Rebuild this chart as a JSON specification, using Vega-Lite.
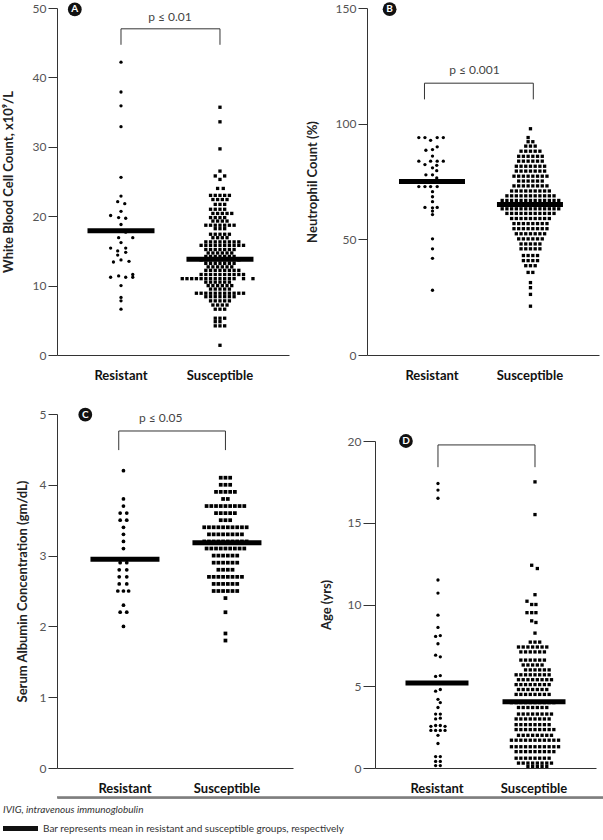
{
"$schema": "https://vega.github.io/schema/vega-lite/v6.json",
"padding": {"left": 2, "top": 2, "right": 0, "bottom": 0},
"datasets": {
"A": [
{"g":"R","v":42.2,"s":0},{"g":"R","v":37.9,"s":0},{"g":"R","v":35.9,"s":0},{"g":"R","v":32.9,"s":0},{"g":"R","v":25.6,"s":0},{"g":"R","v":22.9,"s":0},{"g":"R","v":22.1,"s":-0.7},{"g":"R","v":21.8,"s":0.8},{"g":"R","v":20.7,"s":0},{"g":"R","v":20.1,"s":-2.2},{"g":"R","v":19.8,"s":-0.5},{"g":"R","v":19.7,"s":1},{"g":"R","v":18.8,"s":0},{"g":"R","v":17.7,"s":1},{"g":"R","v":16.9,"s":-0.5},{"g":"R","v":16.9,"s":2.5},{"g":"R","v":16.2,"s":0},{"g":"R","v":15.4,"s":-2.2},{"g":"R","v":15.0,"s":-0.7},{"g":"R","v":15.4,"s":1},{"g":"R","v":14.8,"s":1},{"g":"R","v":14.4,"s":-0.7},{"g":"R","v":13.4,"s":-1.6},{"g":"R","v":13.7,"s":0},{"g":"R","v":13.5,"s":1.7},{"g":"R","v":11.2,"s":-2.2},{"g":"R","v":11.4,"s":-0.5},{"g":"R","v":11.2,"s":1},{"g":"R","v":11.6,"s":2.5},{"g":"R","v":11.2,"s":2.5},{"g":"R","v":10.0,"s":0},{"g":"R","v":8.3,"s":0},{"g":"R","v":7.8,"s":0},{"g":"R","v":6.6,"s":0},
{"g":"S","v":35.7,"s":0},{"g":"S","v":33.6,"s":0},{"g":"S","v":29.7,"s":0},{"g":"S","v":26.5,"s":0},
{"g":"S","v":25.8,"s":-1},{"g":"S","v":25.8,"s":1},{"g":"S","v":25.3,"s":0},
{"g":"S","v":24.0,"s":-0.5},{"g":"S","v":24.0,"s":0.7},
{"g":"S","v":23.0,"s":-2},{"g":"S","v":23.0,"s":-1},{"g":"S","v":23.0,"s":0},{"g":"S","v":23.0,"s":1},{"g":"S","v":23.0,"s":2},
{"g":"S","v":22.4,"s":-1.5},{"g":"S","v":22.4,"s":-0.5},{"g":"S","v":22.4,"s":0.5},{"g":"S","v":22.4,"s":1.5},
{"g":"S","v":21.7,"s":-1},{"g":"S","v":21.7,"s":0},{"g":"S","v":21.7,"s":1},
{"g":"S","v":21.0,"s":-2},{"g":"S","v":21.0,"s":-1},{"g":"S","v":21.0,"s":0},{"g":"S","v":21.0,"s":1},
{"g":"S","v":20.4,"s":-1.5},{"g":"S","v":20.4,"s":-0.5},{"g":"S","v":20.4,"s":0.5},{"g":"S","v":20.4,"s":1.5},{"g":"S","v":20.4,"s":2.5},
{"g":"S","v":19.8,"s":-2},{"g":"S","v":19.8,"s":-1},{"g":"S","v":19.8,"s":0},{"g":"S","v":19.8,"s":1},
{"g":"S","v":19.3,"s":-1.5},{"g":"S","v":19.3,"s":-0.5},{"g":"S","v":19.3,"s":0.5},{"g":"S","v":19.3,"s":1.5},
{"g":"S","v":18.7,"s":-3},{"g":"S","v":18.7,"s":-2},{"g":"S","v":18.7,"s":-1},{"g":"S","v":18.7,"s":0},{"g":"S","v":18.7,"s":1},{"g":"S","v":18.7,"s":2},{"g":"S","v":18.7,"s":3},
{"g":"S","v":18.2,"s":-1},{"g":"S","v":18.2,"s":0},{"g":"S","v":18.2,"s":1},
{"g":"S","v":17.4,"s":-2},{"g":"S","v":17.4,"s":-1},{"g":"S","v":17.4,"s":0},{"g":"S","v":17.4,"s":1},{"g":"S","v":17.4,"s":2},
{"g":"S","v":16.9,"s":-1.5},{"g":"S","v":16.9,"s":-0.5},{"g":"S","v":16.9,"s":0.5},{"g":"S","v":16.9,"s":1.5},
{"g":"S","v":16.3,"s":-3},{"g":"S","v":16.3,"s":-2},{"g":"S","v":16.3,"s":-1},{"g":"S","v":16.3,"s":0},{"g":"S","v":16.3,"s":1},{"g":"S","v":16.3,"s":2},{"g":"S","v":16.3,"s":3},{"g":"S","v":16.3,"s":4},
{"g":"S","v":15.8,"s":-4},{"g":"S","v":15.8,"s":-3},{"g":"S","v":15.8,"s":-2},{"g":"S","v":15.8,"s":-1},{"g":"S","v":15.8,"s":0},{"g":"S","v":15.8,"s":1},{"g":"S","v":15.8,"s":2},{"g":"S","v":15.8,"s":3},{"g":"S","v":15.8,"s":4},{"g":"S","v":15.8,"s":5},
{"g":"S","v":15.2,"s":-3},{"g":"S","v":15.2,"s":-2},{"g":"S","v":15.2,"s":-1},{"g":"S","v":15.2,"s":0},{"g":"S","v":15.2,"s":1},{"g":"S","v":15.2,"s":2},{"g":"S","v":15.2,"s":3},
{"g":"S","v":14.7,"s":-2.5},{"g":"S","v":14.7,"s":-1.5},{"g":"S","v":14.7,"s":-0.5},{"g":"S","v":14.7,"s":0.5},{"g":"S","v":14.7,"s":1.5},{"g":"S","v":14.7,"s":2.5},
{"g":"S","v":14.2,"s":-3},{"g":"S","v":14.2,"s":-2},{"g":"S","v":14.2,"s":-1},{"g":"S","v":14.2,"s":0},{"g":"S","v":14.2,"s":1},{"g":"S","v":14.2,"s":2},{"g":"S","v":14.2,"s":3},
{"g":"S","v":13.7,"s":-4},{"g":"S","v":13.7,"s":-3},{"g":"S","v":13.7,"s":-2},{"g":"S","v":13.7,"s":-1},{"g":"S","v":13.7,"s":0},{"g":"S","v":13.7,"s":1},{"g":"S","v":13.7,"s":2},{"g":"S","v":13.7,"s":3},{"g":"S","v":13.7,"s":4},
{"g":"S","v":13.2,"s":-3},{"g":"S","v":13.2,"s":-2},{"g":"S","v":13.2,"s":-1},{"g":"S","v":13.2,"s":0},{"g":"S","v":13.2,"s":1},{"g":"S","v":13.2,"s":2},{"g":"S","v":13.2,"s":3},
{"g":"S","v":12.7,"s":-2.5},{"g":"S","v":12.7,"s":-1.5},{"g":"S","v":12.7,"s":-0.5},{"g":"S","v":12.7,"s":0.5},{"g":"S","v":12.7,"s":1.5},{"g":"S","v":12.7,"s":2.5},
{"g":"S","v":12.2,"s":-3},{"g":"S","v":12.2,"s":-2},{"g":"S","v":12.2,"s":-1},{"g":"S","v":12.2,"s":0},{"g":"S","v":12.2,"s":1},{"g":"S","v":12.2,"s":2},{"g":"S","v":12.2,"s":3},{"g":"S","v":12.2,"s":4},
{"g":"S","v":11.6,"s":-4},{"g":"S","v":11.6,"s":-3},{"g":"S","v":11.6,"s":-2},{"g":"S","v":11.6,"s":-1},{"g":"S","v":11.6,"s":0},{"g":"S","v":11.6,"s":1},{"g":"S","v":11.6,"s":2},{"g":"S","v":11.6,"s":3},{"g":"S","v":11.6,"s":4},{"g":"S","v":11.6,"s":5},
{"g":"S","v":11.0,"s":-8},{"g":"S","v":11.0,"s":-7},{"g":"S","v":11.0,"s":-6},{"g":"S","v":11.0,"s":-5},{"g":"S","v":11.0,"s":-4},{"g":"S","v":11.0,"s":-3},{"g":"S","v":11.0,"s":-2},{"g":"S","v":11.0,"s":-1},{"g":"S","v":11.0,"s":0},{"g":"S","v":11.0,"s":1},{"g":"S","v":11.0,"s":2},{"g":"S","v":11.0,"s":3},{"g":"S","v":11.0,"s":5},{"g":"S","v":11.0,"s":7},
{"g":"S","v":10.5,"s":-3},{"g":"S","v":10.5,"s":-2},{"g":"S","v":10.5,"s":-1},{"g":"S","v":10.5,"s":0},{"g":"S","v":10.5,"s":1},{"g":"S","v":10.5,"s":2},
{"g":"S","v":10.0,"s":-2.5},{"g":"S","v":10.0,"s":-1.5},{"g":"S","v":10.0,"s":-0.5},{"g":"S","v":10.0,"s":0.5},{"g":"S","v":10.0,"s":1.5},{"g":"S","v":10.0,"s":2.5},
{"g":"S","v":9.5,"s":-2},{"g":"S","v":9.5,"s":-1},{"g":"S","v":9.5,"s":0},{"g":"S","v":9.5,"s":1},{"g":"S","v":9.5,"s":2},
{"g":"S","v":8.9,"s":-5},{"g":"S","v":8.9,"s":-4},{"g":"S","v":8.9,"s":-3},{"g":"S","v":8.9,"s":-2},{"g":"S","v":8.9,"s":-1},{"g":"S","v":8.9,"s":0},{"g":"S","v":8.9,"s":1},{"g":"S","v":8.9,"s":2},{"g":"S","v":8.9,"s":3},{"g":"S","v":8.9,"s":4},{"g":"S","v":8.9,"s":5},
{"g":"S","v":8.4,"s":-3},{"g":"S","v":8.4,"s":-2},{"g":"S","v":8.4,"s":-1},{"g":"S","v":8.4,"s":0},{"g":"S","v":8.4,"s":1},{"g":"S","v":8.4,"s":2},{"g":"S","v":8.4,"s":3},
{"g":"S","v":7.8,"s":-2},{"g":"S","v":7.8,"s":-1},{"g":"S","v":7.8,"s":0},{"g":"S","v":7.8,"s":1},{"g":"S","v":7.8,"s":2},
{"g":"S","v":7.2,"s":-1.5},{"g":"S","v":7.2,"s":-0.5},{"g":"S","v":7.2,"s":0.5},{"g":"S","v":7.2,"s":1.5},
{"g":"S","v":6.6,"s":-1},{"g":"S","v":6.6,"s":0},{"g":"S","v":6.6,"s":1},
{"g":"S","v":5.3,"s":-1},{"g":"S","v":5.3,"s":0},{"g":"S","v":5.3,"s":1},
{"g":"S","v":4.8,"s":-1},{"g":"S","v":4.8,"s":0},
{"g":"S","v":4.2,"s":-1},{"g":"S","v":4.2,"s":0},{"g":"S","v":4.2,"s":1},
{"g":"S","v":1.4,"s":0}
],
"Am": [{"g":"R","v":17.9},{"g":"S","v":13.8}],
"Ab": [{"g":"R","v":44.7,"s":0,"o":1},{"g":"R","v":47.0,"s":0,"o":2},{"g":"S","v":47.0,"s":0,"o":3},{"g":"S","v":44.7,"s":0,"o":4}],
"At": [{"g":"R","v":48.7,"s":10.4,"t":"p ≤ 0.01"}],
"Al": [{"g":"R","v":49.8,"s":-9.8,"t":"A"}],
"B": [
{"g":"R","v":94.0,"s":-2.9},{"g":"R","v":94.0,"s":-1.6},{"g":"R","v":92.8,"s":-0.4},{"g":"R","v":94.0,"s":1.0},{"g":"R","v":94.0,"s":2.3},
{"g":"R","v":90.0,"s":1.0},{"g":"R","v":88.5,"s":-1.4},{"g":"R","v":88.8,"s":0},{"g":"R","v":86.0,"s":0},
{"g":"R","v":83.8,"s":-2.9},{"g":"R","v":83.8,"s":-0.4},{"g":"R","v":83.8,"s":1.0},{"g":"R","v":83.8,"s":2.3},
{"g":"R","v":82.3,"s":-1.6},{"g":"R","v":82.0,"s":0.9},{"g":"R","v":80.9,"s":0},{"g":"R","v":79.7,"s":0.9},{"g":"R","v":77.9,"s":-1.4},{"g":"R","v":77.9,"s":0},{"g":"R","v":76.5,"s":0.9},{"g":"R","v":75.0,"s":0},
{"g":"R","v":72.8,"s":-2.9},{"g":"R","v":72.8,"s":-1.6},{"g":"R","v":72.8,"s":-0.4},{"g":"R","v":72.8,"s":1.0},
{"g":"R","v":70.6,"s":0},{"g":"R","v":68.4,"s":0},{"g":"R","v":66.3,"s":0},{"g":"R","v":63.8,"s":-1.6},{"g":"R","v":63.8,"s":1.0},{"g":"R","v":63.6,"s":0},{"g":"R","v":62.2,"s":0},{"g":"R","v":60.7,"s":0},
{"g":"R","v":50.2,"s":0},{"g":"R","v":45.9,"s":0},{"g":"R","v":41.8,"s":0},{"g":"R","v":28.0,"s":0},
{"g":"S","v":97.8,"s":0},{"g":"S","v":94.0,"s":-0.5},
{"g":"S","v":92.2,"s":-0.5},{"g":"S","v":92.2,"s":0.5},
{"g":"S","v":90.3,"s":-1},{"g":"S","v":90.3,"s":0},{"g":"S","v":90.3,"s":1},
{"g":"S","v":88.1,"s":-2},{"g":"S","v":88.1,"s":-1},{"g":"S","v":88.1,"s":0},{"g":"S","v":88.1,"s":1},{"g":"S","v":88.1,"s":2},
{"g":"S","v":85.9,"s":-2.5},{"g":"S","v":85.9,"s":-1.5},{"g":"S","v":85.9,"s":-0.5},{"g":"S","v":85.9,"s":0.5},{"g":"S","v":85.9,"s":1.5},{"g":"S","v":85.9,"s":2.5},
{"g":"S","v":83.8,"s":-2.5},{"g":"S","v":83.8,"s":-1.5},{"g":"S","v":83.8,"s":-0.5},{"g":"S","v":83.8,"s":0.5},{"g":"S","v":83.8,"s":1.5},{"g":"S","v":83.8,"s":2.5},
{"g":"S","v":81.6,"s":-3},{"g":"S","v":81.6,"s":-2},{"g":"S","v":81.6,"s":-1},{"g":"S","v":81.6,"s":0},{"g":"S","v":81.6,"s":1},{"g":"S","v":81.6,"s":2},{"g":"S","v":81.6,"s":3},
{"g":"S","v":79.5,"s":-3},{"g":"S","v":79.5,"s":-2},{"g":"S","v":79.5,"s":-1},{"g":"S","v":79.5,"s":0},{"g":"S","v":79.5,"s":1},{"g":"S","v":79.5,"s":2},{"g":"S","v":79.5,"s":3},
{"g":"S","v":77.3,"s":-3.5},{"g":"S","v":77.3,"s":-2.5},{"g":"S","v":77.3,"s":-1.5},{"g":"S","v":77.3,"s":-0.5},{"g":"S","v":77.3,"s":0.5},{"g":"S","v":77.3,"s":1.5},{"g":"S","v":77.3,"s":2.5},{"g":"S","v":77.3,"s":3.5},
{"g":"S","v":75.2,"s":-2.5},{"g":"S","v":75.2,"s":-1.5},{"g":"S","v":75.2,"s":-0.5},{"g":"S","v":75.2,"s":0.5},{"g":"S","v":75.2,"s":1.5},{"g":"S","v":75.2,"s":2.5},
{"g":"S","v":73.1,"s":-3.5},{"g":"S","v":73.1,"s":-2.5},{"g":"S","v":73.1,"s":-1.5},{"g":"S","v":73.1,"s":-0.5},{"g":"S","v":73.1,"s":0.5},{"g":"S","v":73.1,"s":1.5},{"g":"S","v":73.1,"s":2.5},{"g":"S","v":73.1,"s":3.5},
{"g":"S","v":70.9,"s":-4},{"g":"S","v":70.9,"s":-3},{"g":"S","v":70.9,"s":-2},{"g":"S","v":70.9,"s":-1},{"g":"S","v":70.9,"s":0},{"g":"S","v":70.9,"s":1},{"g":"S","v":70.9,"s":2},{"g":"S","v":70.9,"s":3},{"g":"S","v":70.9,"s":4},
{"g":"S","v":68.8,"s":-5},{"g":"S","v":68.8,"s":-4},{"g":"S","v":68.8,"s":-3},{"g":"S","v":68.8,"s":-2},{"g":"S","v":68.8,"s":-1},{"g":"S","v":68.8,"s":0},{"g":"S","v":68.8,"s":1},{"g":"S","v":68.8,"s":2},{"g":"S","v":68.8,"s":3},{"g":"S","v":68.8,"s":4},{"g":"S","v":68.8,"s":5},
{"g":"S","v":66.8,"s":-6},{"g":"S","v":66.8,"s":-5},{"g":"S","v":66.8,"s":-4},{"g":"S","v":66.8,"s":-3},{"g":"S","v":66.8,"s":-2},{"g":"S","v":66.8,"s":-1},{"g":"S","v":66.8,"s":0},{"g":"S","v":66.8,"s":1},{"g":"S","v":66.8,"s":2},{"g":"S","v":66.8,"s":3},{"g":"S","v":66.8,"s":4},{"g":"S","v":66.8,"s":5},{"g":"S","v":66.8,"s":6},
{"g":"S","v":65.0,"s":-6},{"g":"S","v":65.0,"s":-5},{"g":"S","v":65.0,"s":-4},{"g":"S","v":65.0,"s":-3},{"g":"S","v":65.0,"s":-2},{"g":"S","v":65.0,"s":-1},{"g":"S","v":65.0,"s":0},{"g":"S","v":65.0,"s":1},{"g":"S","v":65.0,"s":2},{"g":"S","v":65.0,"s":3},{"g":"S","v":65.0,"s":4},{"g":"S","v":65.0,"s":5},{"g":"S","v":65.0,"s":6},
{"g":"S","v":63.2,"s":-6},{"g":"S","v":63.2,"s":-5},{"g":"S","v":63.2,"s":-4},{"g":"S","v":63.2,"s":-3},{"g":"S","v":63.2,"s":-2},{"g":"S","v":63.2,"s":-1},{"g":"S","v":63.2,"s":0},{"g":"S","v":63.2,"s":1},{"g":"S","v":63.2,"s":2},{"g":"S","v":63.2,"s":3},{"g":"S","v":63.2,"s":4},{"g":"S","v":63.2,"s":5},{"g":"S","v":63.2,"s":6},
{"g":"S","v":61.2,"s":-5},{"g":"S","v":61.2,"s":-4},{"g":"S","v":61.2,"s":-3},{"g":"S","v":61.2,"s":-2},{"g":"S","v":61.2,"s":-1},{"g":"S","v":61.2,"s":0},{"g":"S","v":61.2,"s":1},{"g":"S","v":61.2,"s":2},{"g":"S","v":61.2,"s":3},{"g":"S","v":61.2,"s":4},{"g":"S","v":61.2,"s":5},
{"g":"S","v":59.0,"s":-4},{"g":"S","v":59.0,"s":-3},{"g":"S","v":59.0,"s":-2},{"g":"S","v":59.0,"s":-1},{"g":"S","v":59.0,"s":0},{"g":"S","v":59.0,"s":1},{"g":"S","v":59.0,"s":2},{"g":"S","v":59.0,"s":3},{"g":"S","v":59.0,"s":4},
{"g":"S","v":56.8,"s":-3.5},{"g":"S","v":56.8,"s":-2.5},{"g":"S","v":56.8,"s":-1.5},{"g":"S","v":56.8,"s":-0.5},{"g":"S","v":56.8,"s":0.5},{"g":"S","v":56.8,"s":1.5},{"g":"S","v":56.8,"s":2.5},{"g":"S","v":56.8,"s":3.5},
{"g":"S","v":54.6,"s":-3.5},{"g":"S","v":54.6,"s":-2.5},{"g":"S","v":54.6,"s":-1.5},{"g":"S","v":54.6,"s":-0.5},{"g":"S","v":54.6,"s":0.5},{"g":"S","v":54.6,"s":1.5},{"g":"S","v":54.6,"s":2.5},{"g":"S","v":54.6,"s":3.5},
{"g":"S","v":52.4,"s":-3},{"g":"S","v":52.4,"s":-2},{"g":"S","v":52.4,"s":-1},{"g":"S","v":52.4,"s":0},{"g":"S","v":52.4,"s":1},{"g":"S","v":52.4,"s":2},{"g":"S","v":52.4,"s":3},
{"g":"S","v":50.2,"s":-2.5},{"g":"S","v":50.2,"s":-1.5},{"g":"S","v":50.2,"s":-0.5},{"g":"S","v":50.2,"s":0.5},{"g":"S","v":50.2,"s":1.5},{"g":"S","v":50.2,"s":2.5},
{"g":"S","v":48.0,"s":-2},{"g":"S","v":48.0,"s":-1},{"g":"S","v":48.0,"s":0},{"g":"S","v":48.0,"s":1},{"g":"S","v":48.0,"s":2},
{"g":"S","v":45.9,"s":-2},{"g":"S","v":45.9,"s":-1},{"g":"S","v":45.9,"s":0},{"g":"S","v":45.9,"s":1},{"g":"S","v":45.9,"s":2},
{"g":"S","v":43.0,"s":-1.5},{"g":"S","v":43.0,"s":-0.5},{"g":"S","v":43.0,"s":0.5},{"g":"S","v":43.0,"s":1.5},
{"g":"S","v":40.8,"s":-1.5},{"g":"S","v":40.8,"s":-0.5},{"g":"S","v":40.8,"s":0.5},{"g":"S","v":40.8,"s":1.5},
{"g":"S","v":38.6,"s":-1},{"g":"S","v":38.6,"s":0},{"g":"S","v":38.6,"s":1},
{"g":"S","v":35.7,"s":-0.5},{"g":"S","v":35.7,"s":0.5},
{"g":"S","v":31.3,"s":0},{"g":"S","v":29.1,"s":0},{"g":"S","v":26.2,"s":0},{"g":"S","v":21.1,"s":0}
],
"Bm": [{"g":"R","v":75.0},{"g":"S","v":65.1}],
"Bb": [{"g":"R","v":110.5,"s":-1.7,"o":1},{"g":"R","v":117.5,"s":-1.7,"o":2},{"g":"S","v":117.5,"s":0.6,"o":3},{"g":"S","v":110.5,"s":0.6,"o":4}],
"Bt": [{"g":"R","v":123.2,"s":8.9,"t":"p ≤ 0.001"}],
"Bl": [{"g":"R","v":149.5,"s":-9.1,"t":"B"}],
"C": [
{"g":"R","v":4.2,"s":0},{"g":"R","v":3.8,"s":0},{"g":"R","v":3.7,"s":0},{"g":"R","v":3.6,"s":-0.7},{"g":"R","v":3.6,"s":0.7},{"g":"R","v":3.5,"s":-0.7},{"g":"R","v":3.5,"s":0.7},{"g":"R","v":3.4,"s":0},{"g":"R","v":3.3,"s":0},{"g":"R","v":3.2,"s":0},{"g":"R","v":3.1,"s":0},{"g":"R","v":2.9,"s":-0.7},{"g":"R","v":2.9,"s":0.7},{"g":"R","v":2.8,"s":-0.9},{"g":"R","v":2.8,"s":0.7},{"g":"R","v":2.7,"s":-0.9},{"g":"R","v":2.7,"s":0.7},{"g":"R","v":2.6,"s":-0.9},{"g":"R","v":2.6,"s":0.7},{"g":"R","v":2.5,"s":-1.2},{"g":"R","v":2.5,"s":0},{"g":"R","v":2.5,"s":1.1},{"g":"R","v":2.3,"s":0},{"g":"R","v":2.2,"s":-0.7},{"g":"R","v":2.2,"s":0.7},{"g":"R","v":2.0,"s":0},
{"g":"S","v":4.1,"s":-1},{"g":"S","v":4.1,"s":0},{"g":"S","v":4.1,"s":1},
{"g":"S","v":4.0,"s":-1},{"g":"S","v":4.0,"s":0},{"g":"S","v":4.0,"s":1},
{"g":"S","v":3.9,"s":-2},{"g":"S","v":3.9,"s":-1},{"g":"S","v":3.9,"s":0},{"g":"S","v":3.9,"s":1},{"g":"S","v":3.9,"s":2},
{"g":"S","v":3.8,"s":-0.5},{"g":"S","v":3.8,"s":0.5},
{"g":"S","v":3.7,"s":-4},{"g":"S","v":3.7,"s":-3},{"g":"S","v":3.7,"s":-2},{"g":"S","v":3.7,"s":-1},{"g":"S","v":3.7,"s":0},{"g":"S","v":3.7,"s":1},{"g":"S","v":3.7,"s":2},{"g":"S","v":3.7,"s":3},{"g":"S","v":3.7,"s":4},
{"g":"S","v":3.6,"s":-2},{"g":"S","v":3.6,"s":-1},{"g":"S","v":3.6,"s":0},{"g":"S","v":3.6,"s":1},{"g":"S","v":3.6,"s":2},
{"g":"S","v":3.5,"s":-1},{"g":"S","v":3.5,"s":0},{"g":"S","v":3.5,"s":1},
{"g":"S","v":3.4,"s":-4.5},{"g":"S","v":3.4,"s":-3.5},{"g":"S","v":3.4,"s":-2.5},{"g":"S","v":3.4,"s":-1.5},{"g":"S","v":3.4,"s":-0.5},{"g":"S","v":3.4,"s":0.5},{"g":"S","v":3.4,"s":1.5},{"g":"S","v":3.4,"s":2.5},{"g":"S","v":3.4,"s":3.5},{"g":"S","v":3.4,"s":4.5},
{"g":"S","v":3.3,"s":-3.5},{"g":"S","v":3.3,"s":-2.5},{"g":"S","v":3.3,"s":-1.5},{"g":"S","v":3.3,"s":-0.5},{"g":"S","v":3.3,"s":0.5},{"g":"S","v":3.3,"s":1.5},{"g":"S","v":3.3,"s":2.5},{"g":"S","v":3.3,"s":3.5},
{"g":"S","v":3.2,"s":-4.5},{"g":"S","v":3.2,"s":-3.5},{"g":"S","v":3.2,"s":-2.5},{"g":"S","v":3.2,"s":-1.5},{"g":"S","v":3.2,"s":-0.5},{"g":"S","v":3.2,"s":0.5},{"g":"S","v":3.2,"s":1.5},{"g":"S","v":3.2,"s":2.5},{"g":"S","v":3.2,"s":3.5},{"g":"S","v":3.2,"s":4.5},
{"g":"S","v":3.1,"s":-4},{"g":"S","v":3.1,"s":-3},{"g":"S","v":3.1,"s":-2},{"g":"S","v":3.1,"s":-1},{"g":"S","v":3.1,"s":0},{"g":"S","v":3.1,"s":1},{"g":"S","v":3.1,"s":2},{"g":"S","v":3.1,"s":3},{"g":"S","v":3.1,"s":4},
{"g":"S","v":3.0,"s":-2.5},{"g":"S","v":3.0,"s":-1.5},{"g":"S","v":3.0,"s":-0.5},{"g":"S","v":3.0,"s":0.5},{"g":"S","v":3.0,"s":1.5},{"g":"S","v":3.0,"s":2.5},
{"g":"S","v":2.9,"s":-2.5},{"g":"S","v":2.9,"s":-1.5},{"g":"S","v":2.9,"s":-0.5},{"g":"S","v":2.9,"s":0.5},{"g":"S","v":2.9,"s":1.5},{"g":"S","v":2.9,"s":2.5},
{"g":"S","v":2.8,"s":-1.5},{"g":"S","v":2.8,"s":-0.5},{"g":"S","v":2.8,"s":0.5},{"g":"S","v":2.8,"s":1.5},
{"g":"S","v":2.7,"s":-3.5},{"g":"S","v":2.7,"s":-2.5},{"g":"S","v":2.7,"s":-1.5},{"g":"S","v":2.7,"s":-0.5},{"g":"S","v":2.7,"s":0.5},{"g":"S","v":2.7,"s":1.5},{"g":"S","v":2.7,"s":2.5},{"g":"S","v":2.7,"s":3.5},
{"g":"S","v":2.6,"s":-2.5},{"g":"S","v":2.6,"s":-1.5},{"g":"S","v":2.6,"s":-0.5},{"g":"S","v":2.6,"s":0.5},{"g":"S","v":2.6,"s":1.5},{"g":"S","v":2.6,"s":2.5},
{"g":"S","v":2.5,"s":-2.5},{"g":"S","v":2.5,"s":-1.5},{"g":"S","v":2.5,"s":-0.5},{"g":"S","v":2.5,"s":0.5},{"g":"S","v":2.5,"s":1.5},{"g":"S","v":2.5,"s":2.5},
{"g":"S","v":2.4,"s":0},{"g":"S","v":2.2,"s":0},{"g":"S","v":1.9,"s":0},{"g":"S","v":1.8,"s":0}
],
"Cm": [{"g":"R","v":2.95},{"g":"S","v":3.18}],
"Cb": [{"g":"R","v":4.49,"s":-1,"o":1},{"g":"R","v":4.76,"s":-1,"o":2},{"g":"S","v":4.76,"s":0,"o":3},{"g":"S","v":4.49,"s":0,"o":4}],
"Ct": [{"g":"R","v":4.94,"s":7.9,"t":"p ≤ 0.05"}],
"Cl": [{"g":"R","v":4.99,"s":-8.1,"t":"C"}],
"D": [
{"g":"R","v":17.4,"s":0},{"g":"R","v":17.0,"s":0},{"g":"R","v":16.5,"s":0},{"g":"R","v":11.5,"s":0},{"g":"R","v":10.7,"s":0},{"g":"R","v":9.35,"s":0},{"g":"R","v":8.6,"s":0},{"g":"R","v":8.05,"s":-0.5},{"g":"R","v":8.1,"s":0.5},{"g":"R","v":7.6,"s":0},{"g":"R","v":6.9,"s":-0.5},{"g":"R","v":6.8,"s":0.5},{"g":"R","v":5.6,"s":-0.5},{"g":"R","v":5.65,"s":0.5},{"g":"R","v":4.7,"s":-0.5},{"g":"R","v":4.8,"s":0.5},{"g":"R","v":4.2,"s":0},{"g":"R","v":4.0,"s":0.5},{"g":"R","v":3.7,"s":0},{"g":"R","v":3.3,"s":-0.5},{"g":"R","v":3.3,"s":0.5},{"g":"R","v":3.05,"s":0.5},{"g":"R","v":3.0,"s":-0.5},{"g":"R","v":2.55,"s":-1.5},{"g":"R","v":2.6,"s":-0.5},{"g":"R","v":2.6,"s":0.5},{"g":"R","v":2.55,"s":1.5},{"g":"R","v":2.3,"s":-1.5},{"g":"R","v":2.3,"s":-0.5},{"g":"R","v":2.3,"s":0.5},{"g":"R","v":2.3,"s":1.5},{"g":"R","v":2.0,"s":0},{"g":"R","v":1.5,"s":0},{"g":"R","v":0.7,"s":-0.5},{"g":"R","v":0.7,"s":0.5},{"g":"R","v":0.4,"s":-0.5},{"g":"R","v":0.4,"s":0.5},{"g":"R","v":0.15,"s":-0.5},{"g":"R","v":0.15,"s":0.5},
{"g":"S","v":17.5,"s":0},{"g":"S","v":15.5,"s":0},{"g":"S","v":12.4,"s":-0.7},{"g":"S","v":12.2,"s":0.5},{"g":"S","v":10.6,"s":0},{"g":"S","v":10.2,"s":-1.7},{"g":"S","v":10.0,"s":-0.7},{"g":"S","v":10.0,"s":0.2},
{"g":"S","v":9.5,"s":-1.7},{"g":"S","v":9.5,"s":-0.7},{"g":"S","v":9.5,"s":0.2},{"g":"S","v":9.0,"s":-0.7},{"g":"S","v":8.9,"s":0.2},{"g":"S","v":8.25,"s":0},
{"g":"S","v":7.7,"s":-1},{"g":"S","v":7.7,"s":0},{"g":"S","v":7.7,"s":1},
{"g":"S","v":7.4,"s":-3.5},{"g":"S","v":7.4,"s":-2.5},{"g":"S","v":7.4,"s":-1.5},{"g":"S","v":7.4,"s":-0.5},{"g":"S","v":7.4,"s":0.5},{"g":"S","v":7.4,"s":1.5},{"g":"S","v":7.4,"s":2.5},
{"g":"S","v":7.1,"s":-3},{"g":"S","v":7.1,"s":-2},{"g":"S","v":7.1,"s":-1},{"g":"S","v":7.1,"s":0},{"g":"S","v":7.1,"s":1},{"g":"S","v":7.1,"s":2},
{"g":"S","v":6.6,"s":-3},{"g":"S","v":6.6,"s":-2},{"g":"S","v":6.6,"s":-1},{"g":"S","v":6.6,"s":0},{"g":"S","v":6.6,"s":1},{"g":"S","v":6.6,"s":2},
{"g":"S","v":6.3,"s":-2.5},{"g":"S","v":6.3,"s":-1.5},{"g":"S","v":6.3,"s":-0.5},{"g":"S","v":6.3,"s":0.5},{"g":"S","v":6.3,"s":1.5},
{"g":"S","v":6.0,"s":-2},{"g":"S","v":6.0,"s":-1},{"g":"S","v":6.0,"s":0},{"g":"S","v":6.0,"s":1},{"g":"S","v":6.0,"s":2},{"g":"S","v":6.0,"s":3},
{"g":"S","v":5.7,"s":-4},{"g":"S","v":5.7,"s":-3},{"g":"S","v":5.7,"s":-2},{"g":"S","v":5.7,"s":-1},{"g":"S","v":5.7,"s":0},{"g":"S","v":5.7,"s":1},{"g":"S","v":5.7,"s":2},{"g":"S","v":5.7,"s":3},
{"g":"S","v":5.4,"s":-3.5},{"g":"S","v":5.4,"s":-2.5},{"g":"S","v":5.4,"s":-1.5},{"g":"S","v":5.4,"s":-0.5},{"g":"S","v":5.4,"s":0.5},{"g":"S","v":5.4,"s":1.5},{"g":"S","v":5.4,"s":2.5},{"g":"S","v":5.4,"s":3.5},
{"g":"S","v":5.1,"s":-4},{"g":"S","v":5.1,"s":-3},{"g":"S","v":5.1,"s":-2},{"g":"S","v":5.1,"s":-1},{"g":"S","v":5.1,"s":0},{"g":"S","v":5.1,"s":1},{"g":"S","v":5.1,"s":2},{"g":"S","v":5.1,"s":3},
{"g":"S","v":4.8,"s":-3.5},{"g":"S","v":4.8,"s":-2.5},{"g":"S","v":4.8,"s":-1.5},{"g":"S","v":4.8,"s":-0.5},{"g":"S","v":4.8,"s":0.5},{"g":"S","v":4.8,"s":1.5},{"g":"S","v":4.8,"s":2.5},
{"g":"S","v":4.5,"s":-4},{"g":"S","v":4.5,"s":-3},{"g":"S","v":4.5,"s":-2},{"g":"S","v":4.5,"s":-1},{"g":"S","v":4.5,"s":0},{"g":"S","v":4.5,"s":1},{"g":"S","v":4.5,"s":2},{"g":"S","v":4.5,"s":3},
{"g":"S","v":4.0,"s":-5},{"g":"S","v":4.0,"s":-4},{"g":"S","v":4.0,"s":-3},{"g":"S","v":4.0,"s":-2},{"g":"S","v":4.0,"s":-1},{"g":"S","v":4.0,"s":0},{"g":"S","v":4.0,"s":1},{"g":"S","v":4.0,"s":2},{"g":"S","v":4.0,"s":3},{"g":"S","v":4.0,"s":4},
{"g":"S","v":3.7,"s":-3.5},{"g":"S","v":3.7,"s":-2.5},{"g":"S","v":3.7,"s":-1.5},{"g":"S","v":3.7,"s":-0.5},{"g":"S","v":3.7,"s":0.5},{"g":"S","v":3.7,"s":1.5},{"g":"S","v":3.7,"s":2.5},
{"g":"S","v":3.3,"s":-3.5},{"g":"S","v":3.3,"s":-2.5},{"g":"S","v":3.3,"s":-1.5},{"g":"S","v":3.3,"s":-0.5},{"g":"S","v":3.3,"s":0.5},{"g":"S","v":3.3,"s":1.5},{"g":"S","v":3.3,"s":2.5},{"g":"S","v":3.3,"s":3.5},
{"g":"S","v":3.0,"s":-4},{"g":"S","v":3.0,"s":-3},{"g":"S","v":3.0,"s":-2},{"g":"S","v":3.0,"s":-1},{"g":"S","v":3.0,"s":0},{"g":"S","v":3.0,"s":1},{"g":"S","v":3.0,"s":2},{"g":"S","v":3.0,"s":3},
{"g":"S","v":2.65,"s":-4},{"g":"S","v":2.65,"s":-3},{"g":"S","v":2.65,"s":-2},{"g":"S","v":2.65,"s":-1},{"g":"S","v":2.65,"s":0},{"g":"S","v":2.65,"s":1},{"g":"S","v":2.65,"s":2},{"g":"S","v":2.65,"s":3},
{"g":"S","v":2.35,"s":-4},{"g":"S","v":2.35,"s":-3},{"g":"S","v":2.35,"s":-2},{"g":"S","v":2.35,"s":-1},{"g":"S","v":2.35,"s":0},{"g":"S","v":2.35,"s":1},{"g":"S","v":2.35,"s":2},{"g":"S","v":2.35,"s":3},{"g":"S","v":2.35,"s":4},
{"g":"S","v":2.0,"s":-3.5},{"g":"S","v":2.0,"s":-2.5},{"g":"S","v":2.0,"s":-1.5},{"g":"S","v":2.0,"s":-0.5},{"g":"S","v":2.0,"s":0.5},{"g":"S","v":2.0,"s":1.5},{"g":"S","v":2.0,"s":2.5},{"g":"S","v":2.0,"s":3.5},
{"g":"S","v":1.7,"s":-5},{"g":"S","v":1.7,"s":-4},{"g":"S","v":1.7,"s":-3},{"g":"S","v":1.7,"s":-2},{"g":"S","v":1.7,"s":-1},{"g":"S","v":1.7,"s":0},{"g":"S","v":1.7,"s":1},{"g":"S","v":1.7,"s":2},{"g":"S","v":1.7,"s":3},{"g":"S","v":1.7,"s":4},{"g":"S","v":1.7,"s":5},
{"g":"S","v":1.3,"s":-5},{"g":"S","v":1.3,"s":-4},{"g":"S","v":1.3,"s":-3},{"g":"S","v":1.3,"s":-2},{"g":"S","v":1.3,"s":-1},{"g":"S","v":1.3,"s":0},{"g":"S","v":1.3,"s":1},{"g":"S","v":1.3,"s":2},{"g":"S","v":1.3,"s":3},{"g":"S","v":1.3,"s":4},{"g":"S","v":1.3,"s":5},
{"g":"S","v":1.0,"s":-4},{"g":"S","v":1.0,"s":-3},{"g":"S","v":1.0,"s":-2},{"g":"S","v":1.0,"s":-1},{"g":"S","v":1.0,"s":0},{"g":"S","v":1.0,"s":1},{"g":"S","v":1.0,"s":2},{"g":"S","v":1.0,"s":3},{"g":"S","v":1.0,"s":4},
{"g":"S","v":0.6,"s":-4},{"g":"S","v":0.6,"s":-3},{"g":"S","v":0.6,"s":-2},{"g":"S","v":0.6,"s":-1},{"g":"S","v":0.6,"s":0},{"g":"S","v":0.6,"s":1},{"g":"S","v":0.6,"s":2},{"g":"S","v":0.6,"s":3},
{"g":"S","v":0.3,"s":-3.5},{"g":"S","v":0.3,"s":-2.5},{"g":"S","v":0.3,"s":-1.5},{"g":"S","v":0.3,"s":-0.5},{"g":"S","v":0.3,"s":0.5},{"g":"S","v":0.3,"s":1.5},{"g":"S","v":0.3,"s":2.5},{"g":"S","v":0.3,"s":3.5},
{"g":"S","v":0.1,"s":-1.5},{"g":"S","v":0.1,"s":-0.5},{"g":"S","v":0.1,"s":0.5},{"g":"S","v":0.1,"s":1.5},{"g":"S","v":0.1,"s":2.5}
],
"Dm": [{"g":"R","v":5.2},{"g":"S","v":4.05}],
"Db": [{"g":"R","v":18.4,"s":0,"o":1},{"g":"R","v":19.76,"s":0,"o":2},{"g":"S","v":19.76,"s":0,"o":3},{"g":"S","v":18.4,"s":0,"o":4}],
"Dl": [{"g":"R","v":20.0,"s":-6.8,"t":"D"}],
"F": [{"a":0,"b":1,"y":1}]
},
"vconcat": [
{"vconcat": [
{"hconcat": [
{"width": 232, "height": 347,
"layer": [
{"data": {"name": "A"}, "mark": {"type": "point", "filled": true, "size": 11, "opacity": 1, "color": "#000", "strokeWidth": 0},
"encoding": {
"x": {"field": "g", "type": "nominal", "scale": {"domain": ["R","S"], "paddingInner": 0, "paddingOuter": 0.172, "align": 0.426}, "axis": {"title": null, "labelExpr": "datum.value == 'R' ? 'Resistant' : 'Susceptible'", "labelPadding": 14}},
"xOffset": {"field": "s", "type": "quantitative", "scale": {"domain": [-10.5, 10.5]}},
"y": {"field": "v", "type": "quantitative", "scale": {"domain": [0, 50], "nice": false}, "axis": {"values": [0,10,20,30,40,50], "title": "White Blood Cell Count, x10⁹/L", "titlePadding": 17, "tickSize": 9}},
"shape": {"field": "g", "type": "nominal", "scale": {"domain": ["R","S"], "range": ["circle","square"]}, "legend": null}}},
{"data": {"name": "Am"}, "mark": {"type": "tick", "thickness": 5, "size": 67, "color": "#000", "opacity": 1},
"encoding": {"x": {"field": "g", "type": "nominal"}, "y": {"field": "v", "type": "quantitative"}}},
{"data": {"name": "Ab"}, "mark": {"type": "line", "color": "#333", "strokeWidth": 1},
"encoding": {"x": {"field": "g", "type": "nominal"}, "xOffset": {"field": "s", "type": "quantitative"}, "y": {"field": "v", "type": "quantitative"}, "order": {"field": "o"}}},
{"data": {"name": "At"}, "mark": {"type": "text", "fontSize": 12, "color": "#444"},
"encoding": {"x": {"field": "g", "type": "nominal"}, "xOffset": {"field": "s", "type": "quantitative"}, "y": {"field": "v", "type": "quantitative"}, "text": {"field": "t"}}},
{"data": {"name": "Al"}, "mark": {"type": "point", "filled": true, "size": 190, "color": "#111", "opacity": 1, "shape": "circle"},
"encoding": {"x": {"field": "g", "type": "nominal"}, "xOffset": {"field": "s", "type": "quantitative"}, "y": {"field": "v", "type": "quantitative"}}},
{"data": {"name": "Al"}, "mark": {"type": "text", "fontSize": 10, "fontWeight": "bold", "color": "#fff"},
"encoding": {"x": {"field": "g", "type": "nominal"}, "xOffset": {"field": "s", "type": "quantitative"}, "y": {"field": "v", "type": "quantitative"}, "text": {"field": "t"}}}
]},
{"width": 232, "height": 347,
"layer": [
{"data": {"name": "B"}, "mark": {"type": "point", "filled": true, "size": 11, "opacity": 1, "color": "#000", "strokeWidth": 0},
"encoding": {
"x": {"field": "g", "type": "nominal", "scale": {"domain": ["R","S"], "paddingInner": 0, "paddingOuter": 0.184, "align": 0.444}, "axis": {"title": null, "labelExpr": "datum.value == 'R' ? 'Resistant' : 'Susceptible'", "labelPadding": 14}},
"xOffset": {"field": "s", "type": "quantitative", "scale": {"domain": [-9.25, 9.25]}},
"y": {"field": "v", "type": "quantitative", "scale": {"domain": [0, 150], "nice": false}, "axis": {"values": [0,50,100,150], "title": "Neutrophil Count (%)", "titlePadding": 16, "tickSize": 9}},
"shape": {"field": "g", "type": "nominal", "scale": {"domain": ["R","S"], "range": ["circle","square"]}, "legend": null}}},
{"data": {"name": "Bm"}, "mark": {"type": "tick", "thickness": 5, "size": 66, "color": "#000", "opacity": 1},
"encoding": {"x": {"field": "g", "type": "nominal"}, "y": {"field": "v", "type": "quantitative"}}},
{"data": {"name": "Bb"}, "mark": {"type": "line", "color": "#333", "strokeWidth": 1},
"encoding": {"x": {"field": "g", "type": "nominal"}, "xOffset": {"field": "s", "type": "quantitative"}, "y": {"field": "v", "type": "quantitative"}, "order": {"field": "o"}}},
{"data": {"name": "Bt"}, "mark": {"type": "text", "fontSize": 12, "color": "#444"},
"encoding": {"x": {"field": "g", "type": "nominal"}, "xOffset": {"field": "s", "type": "quantitative"}, "y": {"field": "v", "type": "quantitative"}, "text": {"field": "t"}}},
{"data": {"name": "Bl"}, "mark": {"type": "point", "filled": true, "size": 190, "color": "#111", "opacity": 1, "shape": "circle"},
"encoding": {"x": {"field": "g", "type": "nominal"}, "xOffset": {"field": "s", "type": "quantitative"}, "y": {"field": "v", "type": "quantitative"}}},
{"data": {"name": "Bl"}, "mark": {"type": "text", "fontSize": 10, "fontWeight": "bold", "color": "#fff"},
"encoding": {"x": {"field": "g", "type": "nominal"}, "xOffset": {"field": "s", "type": "quantitative"}, "y": {"field": "v", "type": "quantitative"}, "text": {"field": "t"}}}
]}
], "spacing": 17},
{"hconcat": [
{"width": 236, "height": 354,
"layer": [
{"data": {"name": "C"}, "mark": {"type": "point", "filled": true, "size": 14, "opacity": 1, "color": "#000", "strokeWidth": 0},
"encoding": {
"x": {"field": "g", "type": "nominal", "scale": {"domain": ["R","S"], "paddingInner": 0, "paddingOuter": 0.157, "align": 0.53}, "axis": {"title": null, "labelExpr": "datum.value == 'R' ? 'Resistant' : 'Susceptible'", "labelPadding": 14}},
"xOffset": {"field": "s", "type": "quantitative", "scale": {"domain": [-8.2, 8.2]}},
"y": {"field": "v", "type": "quantitative", "scale": {"domain": [0, 5], "nice": false}, "axis": {"values": [0,1,2,3,4,5], "format": "d", "title": "Serum Albumin Concentration (gm/dL)", "titlePadding": 10, "tickSize": 9}},
"shape": {"field": "g", "type": "nominal", "scale": {"domain": ["R","S"], "range": ["circle","square"]}, "legend": null}}},
{"data": {"name": "Cm"}, "mark": {"type": "tick", "thickness": 5, "size": 69, "color": "#000", "opacity": 1},
"encoding": {"x": {"field": "g", "type": "nominal"}, "y": {"field": "v", "type": "quantitative"}}},
{"data": {"name": "Cb"}, "mark": {"type": "line", "color": "#333", "strokeWidth": 1},
"encoding": {"x": {"field": "g", "type": "nominal"}, "xOffset": {"field": "s", "type": "quantitative"}, "y": {"field": "v", "type": "quantitative"}, "order": {"field": "o"}}},
{"data": {"name": "Ct"}, "mark": {"type": "text", "fontSize": 12, "color": "#444"},
"encoding": {"x": {"field": "g", "type": "nominal"}, "xOffset": {"field": "s", "type": "quantitative"}, "y": {"field": "v", "type": "quantitative"}, "text": {"field": "t"}}},
{"data": {"name": "Cl"}, "mark": {"type": "point", "filled": true, "size": 190, "color": "#111", "opacity": 1, "shape": "circle"},
"encoding": {"x": {"field": "g", "type": "nominal"}, "xOffset": {"field": "s", "type": "quantitative"}, "y": {"field": "v", "type": "quantitative"}}},
{"data": {"name": "Cl"}, "mark": {"type": "text", "fontSize": 10, "fontWeight": "bold", "color": "#fff"},
"encoding": {"x": {"field": "g", "type": "nominal"}, "xOffset": {"field": "s", "type": "quantitative"}, "y": {"field": "v", "type": "quantitative"}, "text": {"field": "t"}}}
]},
{"vconcat": [
{"width": 221, "height": 0, "data": {"values": []}, "mark": {"type": "point"}, "encoding": {}},
{"width": 221, "height": 327,
"layer": [
{"data": {"name": "D"}, "mark": {"type": "point", "filled": true, "size": 11, "opacity": 1, "color": "#000", "strokeWidth": 0},
"encoding": {
"x": {"field": "g", "type": "nominal", "scale": {"domain": ["R","S"], "paddingInner": 0, "paddingOuter": 0.139, "align": 0.5}, "axis": {"title": null, "labelExpr": "datum.value == 'R' ? 'Resistant' : 'Susceptible'", "labelPadding": 14}},
"xOffset": {"field": "s", "type": "quantitative", "scale": {"domain": [-7.46, 7.46]}},
"y": {"field": "v", "type": "quantitative", "scale": {"domain": [0, 20], "nice": false}, "axis": {"values": [0,5,10,15,20], "title": "Age (yrs)", "titlePadding": 14, "tickSize": 12}},
"shape": {"field": "g", "type": "nominal", "scale": {"domain": ["R","S"], "range": ["circle","square"]}, "legend": null}}},
{"data": {"name": "Dm"}, "mark": {"type": "tick", "thickness": 5, "size": 63, "color": "#000", "opacity": 1},
"encoding": {"x": {"field": "g", "type": "nominal"}, "y": {"field": "v", "type": "quantitative"}}},
{"data": {"name": "Db"}, "mark": {"type": "line", "color": "#333", "strokeWidth": 1},
"encoding": {"x": {"field": "g", "type": "nominal"}, "xOffset": {"field": "s", "type": "quantitative"}, "y": {"field": "v", "type": "quantitative"}, "order": {"field": "o"}}},
{"data": {"name": "Dl"}, "mark": {"type": "point", "filled": true, "size": 190, "color": "#111", "opacity": 1, "shape": "circle"},
"encoding": {"x": {"field": "g", "type": "nominal"}, "xOffset": {"field": "s", "type": "quantitative"}, "y": {"field": "v", "type": "quantitative"}}},
{"data": {"name": "Dl"}, "mark": {"type": "text", "fontSize": 10, "fontWeight": "bold", "color": "#fff"},
"encoding": {"x": {"field": "g", "type": "nominal"}, "xOffset": {"field": "s", "type": "quantitative"}, "y": {"field": "v", "type": "quantitative"}, "text": {"field": "t"}}}
]}
], "spacing": 0}
], "spacing": 27}
], "spacing": 25},
{"width": 600, "height": 1, "view": {"stroke": "#8a8a8a", "strokeWidth": 1},
"layer": [
{"data": {"name": "F"}, "mark": {"type": "rule", "color": "#7a7a7a", "strokeWidth": 1.5},
"encoding": {
"x": {"field": "a", "type": "quantitative", "scale": {"domain": [0, 1]}, "axis": null},
"x2": {"field": "b"},
"y": {"field": "y", "type": "quantitative", "scale": {"domain": [0, 1]}, "axis": null}}},
{"data": {"values": []}, "mark": {"type": "point", "filled": true},
"encoding": {"fill": {"datum": "Bar represents mean in resistant and susceptible groups, respectively", "type": "nominal", "scale": {"range": ["#111"]},
"legend": {"orient": "none", "legendX": -54, "legendY": 797, "title": "IVIG, intravenous immunoglobulin", "titleFontStyle": "italic", "titleFontWeight": "normal", "titleFontSize": 10, "titleColor": "#333", "titlePadding": -4, "labelFontSize": 10, "labelColor": "#333", "labelLimit": 0, "labelOffset": 5, "symbolType": "M-1,-0.14H1V0.14H-1Z", "symbolSize": 1225, "symbolStrokeWidth": 0, "symbolOpacity": 1}}}}
]}
],
"spacing": 0,
"config": {
"font": "Lato",
"view": {"stroke": null},
"axis": {"grid": false, "domainColor": "#333", "tickColor": "#333", "labelColor": "#555", "labelFontSize": 12, "labelFont": "Lato", "titleFont": "Lato", "titleFontSize": 13, "titleFontWeight": "bold", "titleColor": "#222", "labelPadding": 2},
"axisX": {"ticks": false, "labelFontWeight": "bold", "labelColor": "#111", "labelFontSize": 13, "labelAngle": 0},
"legend": {"labelFont": "Lato", "titleFont": "Lato"}
}
}
